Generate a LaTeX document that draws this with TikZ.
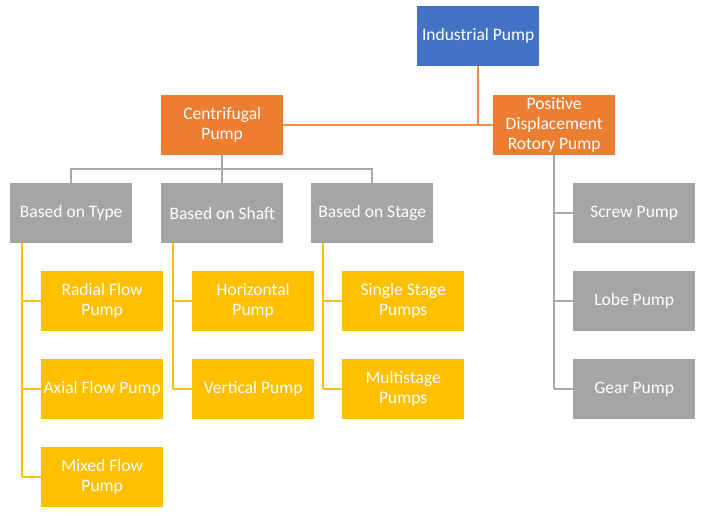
\documentclass[tikz,border=0pt]{standalone}
\usepackage{fontspec}
\setmainfont{Carlito}
\definecolor{cblue}{HTML}{4472C4}
\definecolor{corange}{HTML}{ED7D31}
\definecolor{cgray}{HTML}{A5A5A5}
\definecolor{cyellow}{HTML}{FFC000}
\definecolor{lorange}{HTML}{F0894A}
\definecolor{lgray}{HTML}{A8A8A8}
\begin{document}
\begin{tikzpicture}[x=1pt,y=-1pt,
  box/.style={anchor=north west,minimum width=122pt,minimum height=60pt,inner sep=1pt,text=white,align=center,font=\fontsize{17.5}{20}\selectfont},
  bluebox/.style={box,fill=cblue},
  orangebox/.style={box,fill=corange},
  graybox/.style={box,fill=cgray},
  yellowbox/.style={box,fill=cyellow},
  oline/.style={draw=lorange,line width=2pt},
  gline/.style={draw=lgray,line width=2pt},
  yline/.style={draw=cyellow,line width=2pt}]
\useasboundingbox[fill=white] (0,0) rectangle (713,515);
\node[bluebox] (ip) at (417,6) {Industrial Pump};
\node[orangebox] (cp) at (161,95) {Centrifugal\\Pump};
\node[orangebox] (pd) at (493,95) {Positive\\Displacement\\Rotory Pump};
\node[graybox] (bt) at (10,183) {Based on Type};
\node[graybox] (bs) at (161,183) {Based on Shaft};
\node[graybox] (bg) at (311,183) {Based on Stage};
\node[graybox] (sp) at (573,183) {Screw Pump};
\node[graybox] (lp) at (573,271) {Lobe Pump};
\node[graybox] (gp) at (573,359) {Gear Pump};
\node[yellowbox] (rf) at (41,271) {Radial Flow\\Pump};
\node[yellowbox] (af) at (41,359) {Axial Flow Pump};
\node[yellowbox] (mf) at (41,447) {Mixed Flow\\Pump};
\node[yellowbox] (hp) at (192,271) {Horizontal\\Pump};
\node[yellowbox] (vp) at (192,359) {Vertical Pump};
\node[yellowbox] (ss) at (342,271) {Single Stage\\Pumps};
\node[yellowbox] (ms) at (342,359) {Multistage\\Pumps};
% orange connectors
\draw[oline] (cp.east) -- (pd.west);
\draw[oline] (ip.south) -- (ip.south |- cp.east);
% gray connectors
\coordinate (hb) at (0,169);
\draw[gline] (cp.south) -- (cp.south |- hb);
\draw[gline] (bt.north) -- (bt.north |- hb) -- (bg.north |- hb) -- (bg.north);
\draw[gline] (bs.north) -- (bs.north |- hb);
\draw[gline] (pd.south) -- (pd.south |- gp.west);
\draw[gline] (pd.south |- sp.west) -- (sp.west);
\draw[gline] (pd.south |- lp.west) -- (lp.west);
\draw[gline] (pd.south |- gp.west) -- (gp.west);
% yellow connectors
\coordinate (ta) at (22,243);
\coordinate (sa) at (173,243);
\coordinate (ga) at (323,243);
\draw[yline] (ta) -- (ta |- mf.west);
\draw[yline] (ta |- rf.west) -- (rf.west);
\draw[yline] (ta |- af.west) -- (af.west);
\draw[yline] (ta |- mf.west) -- (mf.west);
\draw[yline] (sa) -- (sa |- vp.west);
\draw[yline] (sa |- hp.west) -- (hp.west);
\draw[yline] (sa |- vp.west) -- (vp.west);
\draw[yline] (ga) -- (ga |- ms.west);
\draw[yline] (ga |- ss.west) -- (ss.west);
\draw[yline] (ga |- ms.west) -- (ms.west);
\end{tikzpicture}
\end{document}
